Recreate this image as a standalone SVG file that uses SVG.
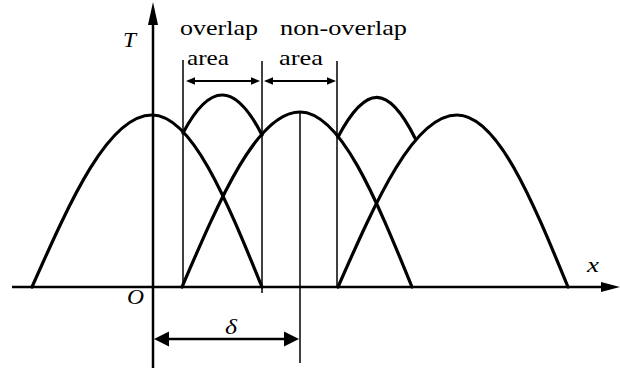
<svg xmlns="http://www.w3.org/2000/svg" width="620" height="370" viewBox="0 0 620 370">
<style>
.curve{fill:none;stroke:#000;stroke-width:3.2;stroke-linecap:round}
.axis{fill:none;stroke:#000;stroke-width:2.5}
.thin{fill:none;stroke:#000;stroke-width:1.5}
.dim{fill:none;stroke:#000;stroke-width:2}
.head{fill:#000;stroke:none}
.lbl{font-family:"Liberation Serif","Times New Roman",serif;font-size:21px;fill:#000}
.it{font-style:italic}
</style>
<rect width="620" height="370" fill="#fff"/>
<g id="axes">
  <line class="axis" x1="12" y1="287" x2="606" y2="287"/>
  <polygon class="head" points="620,287 601,282 601,292"/>
  <line class="axis" x1="153" y1="20" x2="153" y2="368"/>
  <polygon class="head" points="153,2 148,25 158,25"/>
  <text class="lbl it" x="123" y="47" textLength="13" lengthAdjust="spacingAndGlyphs">T</text>
  <text class="lbl it" x="587" y="272" textLength="12" lengthAdjust="spacingAndGlyphs">x</text>
  <text class="lbl it" x="127" y="304" textLength="17" lengthAdjust="spacingAndGlyphs">O</text>
</g>
<g id="curves">
  <path id="curve-a" class="curve" d="M32,287 C71.1,198.9 108.6,115 152,115 C191.8,115 226.1,198.9 262,287"/>
  <path id="curve-b" class="curve" d="M182,287 C220.5,197.3 257.3,112 300,112 C340.5,112 375.5,197.3 412,287"/>
  <path id="curve-e" class="curve" d="M338,287 C376.8,198.9 413.9,115 457,115 C497.2,115 531.8,198.9 568,287"/>
  <path id="hump-c" class="curve" d="M183,133 C210,82 235,82 262,135"/>
  <path id="hump-d" class="curve" d="M338,137 C366,84 388,84 415,138"/>
</g>
<g id="connectors">
  <line class="thin" x1="183" y1="60" x2="183" y2="287"/>
  <line class="thin" x1="262" y1="61" x2="262" y2="293"/>
  <line class="thin" x1="337" y1="61" x2="337" y2="287"/>
  <line class="thin" x1="300" y1="112" x2="300" y2="363"/>
  <line class="dim" x1="192" y1="81" x2="254" y2="81"/>
  <polygon class="head" points="186,81 195,77.3 195,84.7"/>
  <polygon class="head" points="260,81 251,77.3 251,84.7"/>
  <line class="dim" x1="270" y1="81" x2="330" y2="81"/>
  <polygon class="head" points="264,81 273,77.3 273,84.7"/>
  <polygon class="head" points="336,81 327,77.3 327,84.7"/>
  <line class="axis" x1="165" y1="339" x2="287" y2="339"/>
  <polygon class="head" points="154,339 169,331.5 169,346.5"/>
  <polygon class="head" points="299,339 284,331.5 284,346.5"/>
</g>
<g id="label-overlap">
  <text class="lbl" x="180" y="35" textLength="78" lengthAdjust="spacingAndGlyphs">overlap</text>
  <text class="lbl" x="187" y="65" textLength="42" lengthAdjust="spacingAndGlyphs">area</text>
</g>
<g id="label-nonoverlap">
  <text class="lbl" x="280" y="35" textLength="127" lengthAdjust="spacingAndGlyphs">non-overlap</text>
  <text class="lbl" x="279" y="65" textLength="44" lengthAdjust="spacingAndGlyphs">area</text>
</g>
<g id="label-delta">
  <text class="lbl it" x="225" y="334" textLength="12" lengthAdjust="spacingAndGlyphs">δ</text>
</g>
</svg>
